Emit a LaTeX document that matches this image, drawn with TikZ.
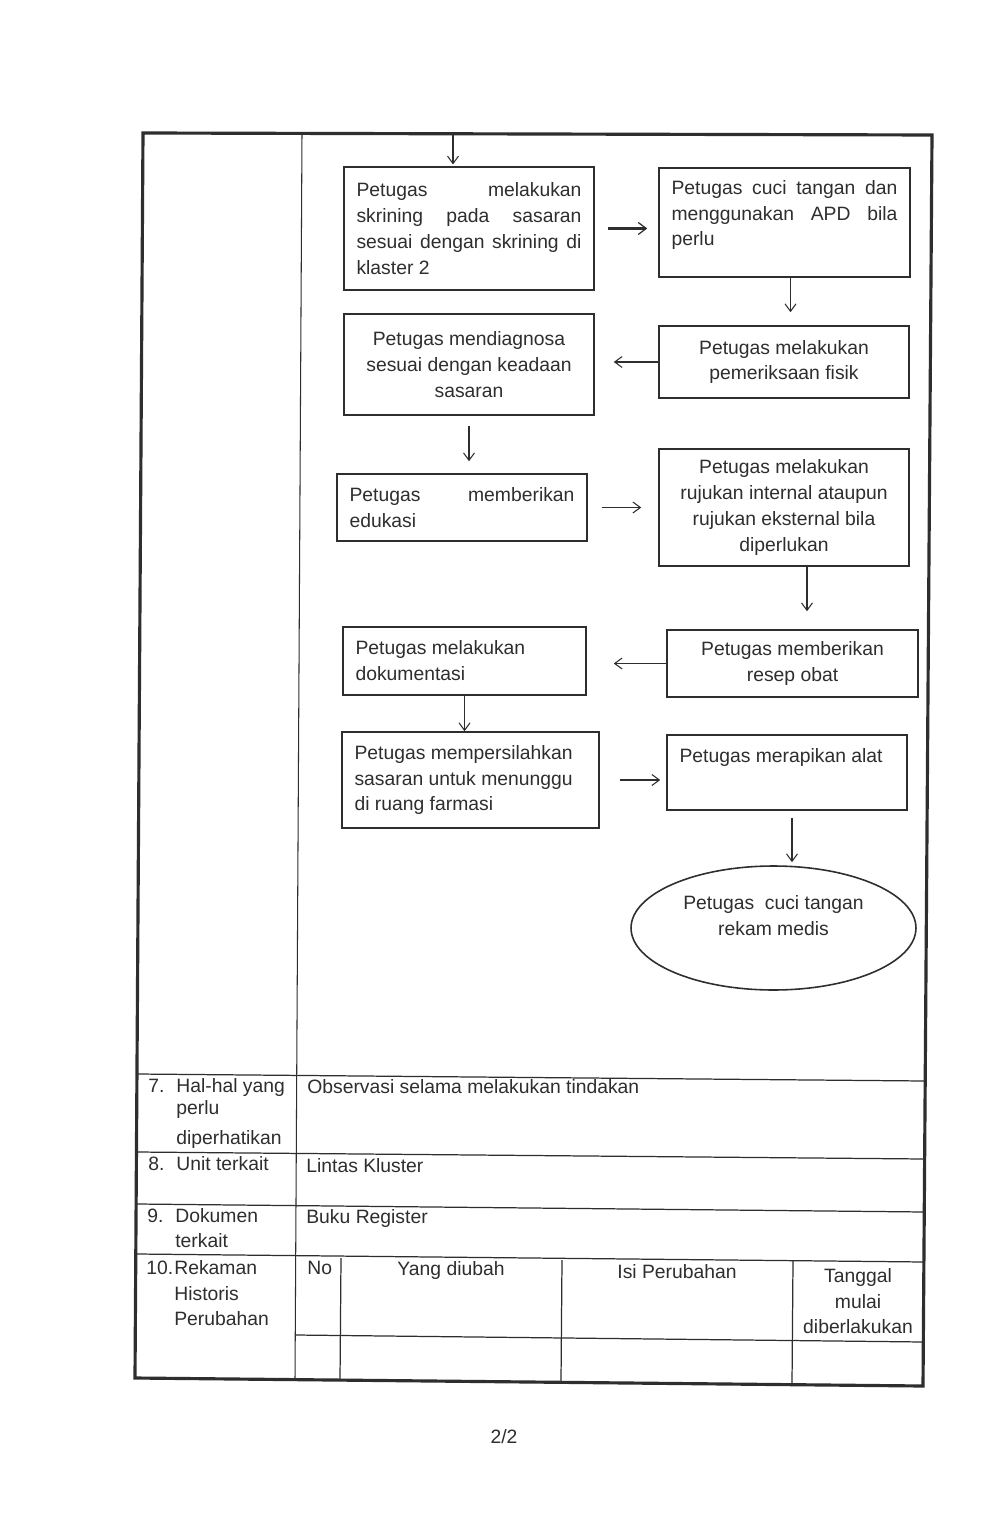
\documentclass[tikz,border=0pt]{standalone}
\usepackage{fontspec}
\setmainfont{Liberation Sans}
\usetikzlibrary{arrows.meta}
\usetikzlibrary{calc}
\usetikzlibrary{positioning}
\usetikzlibrary{shapes.geometric}
\setlength{\parindent}{0pt}
\definecolor{tinta}{gray}{0.18}
\newcommand{\hurufalur}{\fontsize{11pt}{14.7pt}\selectfont}
\newcommand{\rata}[1]{\makebox[\hsize][s]{\spaceskip=0.278em plus 1fil\relax #1}\\}
\tikzset{
	>={Straight Barb[length=1.5mm,width=2.2mm]},
	langkah/.style={
		rectangle,
		draw=tinta, line width=0.9pt,
		inner xsep=0.25cm, inner ysep=0pt,
		font=\hurufalur,
		text=tinta},
	akhir/.style={
		ellipse,
		draw=tinta, line width=0.9pt,
		inner sep=0pt,
		align=center,
		font=\hurufalur,
		text=tinta},
	panah/.style={draw=tinta, line width=0.6pt, ->},
	panahtebal/.style={draw=tinta, line width=1.3pt, -{Straight Barb[length=1.6mm,width=2.4mm,line width=0.7pt]}},
	garis/.style={draw=tinta, line width=0.7pt},
	bingkai/.style={draw=tinta, line width=1.8pt, line join=miter},
	isi/.style={anchor=base west, inner sep=0pt, font=\hurufalur, text=tinta},
	judul/.style={isi, anchor=base},
}
\begin{document}
\begin{tikzpicture}[x=0.02cm, y=-0.02cm]
	\fill[white] (0,0) rectangle (1000,1530);
	\useasboundingbox (0,0) rectangle (1000,1530);

	% garis tabel (hasil pindaian sedikit miring)
	\draw[garis, line width=0.6pt] (302,133) -- (295,1380);
	\foreach \ya/\yb in {1074/1081,1152/1159,1204/1212,1254/1262}
		\draw[garis] (137,\ya) -- (925,\yb);
	\draw[garis] (296,1335) -- (924,1342);
	\foreach \xa/\ya/\xb/\yb in {341/1258/340/1381,562/1260/561/1382,793/1261/792/1384}
		\draw[garis] (\xa,\ya) -- (\xb,\yb);
	\draw[bingkai] (143,133) -- (932,135) -- (923,1386) -- (135,1378) -- cycle;

	% alur kerja
	\node[langkah, minimum width=5cm, minimum height=2.46cm, text width=4.5cm, align=flush left] (skrining) at (469,228.5)
		{\rata{Petugas melakukan}\rata{skrining pada sasaran}\rata{sesuai dengan skrining di}klaster 2};
	\node[langkah, minimum width=5.02cm, minimum height=2.18cm, text width=4.52cm, align=flush left] (cuci) at (784.5,222.5)
		{\rata{Petugas cuci tangan dan}\rata{menggunakan APD bila}perlu\\[-4pt]\mbox{}};
	\node[langkah, minimum width=5cm, minimum height=1.44cm, text width=4.5cm, align=flush center] (fisik) at (784,362)
		{Petugas melakukan\\pemeriksaan fisik};
	\node[langkah, minimum width=5cm, minimum height=2.02cm, text width=4.5cm, align=flush center] (diagnosa) at (469,364.5)
		{Petugas mendiagnosa\\sesuai dengan keadaan\\sasaran};
	\node[langkah, minimum width=5cm, minimum height=1.34cm, text width=4.5cm, align=flush left] (edukasi) at (462,507.5)
		{\rata{Petugas memberikan}edukasi};
	\node[langkah, minimum width=5cm, minimum height=2.34cm, text width=4.5cm, align=flush center] (rujukan) at (784,507.5)
		{Petugas melakukan\\rujukan internal ataupun\\rujukan eksternal bila\\diperlukan};
	\node[langkah, minimum width=5.02cm, minimum height=1.34cm, text width=4.52cm, align=flush center] (resep) at (792.5,663.5)
		{Petugas memberikan\\resep obat};
	\node[langkah, minimum width=4.86cm, minimum height=1.36cm, text width=4.36cm, align=flush left] (dokumentasi) at (464.5,661)
		{Petugas melakukan\\dokumentasi};
	\node[langkah, minimum width=5.14cm, minimum height=1.92cm, text width=4.64cm, align=flush left] (farmasi) at (470.5,780)
		{Petugas mempersilahkan\\sasaran untuk menunggu\\di ruang farmasi};
	\node[langkah, minimum width=4.8cm, minimum height=1.5cm, text width=4.3cm, align=flush left,
		text height=0.54cm, text depth=0.96cm] (alat) at (787,772.5)
		{Petugas merapikan alat};
	\node[akhir, minimum width=5.7cm, minimum height=2.48cm] (akhir) at (773.5,928)
		{Petugas\ \ cuci tangan\\rekam medis\\ \mbox{}};

	% panah
	\coordinate (masuk) at (453,134);
	\draw[panah, shorten >=1pt] (masuk) -- (masuk |- skrining.north);
	\draw[panahtebal, shorten <=0.26cm, shorten >=0.22cm] (skrining.east) -- (skrining.east -| cuci.west);
	\draw[panah, shorten >=0.26cm] ([xshift=0.12cm]cuci.south) -- ([xshift=0.12cm]cuci.south |- fisik.north);
	\draw[panah, shorten >=0.38cm] (fisik.west) -- (fisik.west -| diagnosa.east);
	\draw[panah, shorten <=0.2cm, shorten >=0.24cm] (diagnosa.south) -- (diagnosa.south |- edukasi.north);
	\draw[panah, shorten <=0.28cm, shorten >=0.34cm] (edukasi.east) -- (edukasi.east -| rujukan.west);
	\draw[panah, shorten >=0.36cm] ([xshift=0.46cm]rujukan.south) -- ([xshift=0.46cm]rujukan.south |- resep.north);
	\draw[panah, shorten >=0.54cm] (resep.west) -- (resep.west -| dokumentasi.east);
	\draw[panah] (dokumentasi.south) -- (dokumentasi.south |- farmasi.north);
	\draw[panah, shorten <=0.4cm, shorten >=0.12cm] (farmasi.east) -- (farmasi.east -| alat.west);
	\draw[panah, shorten <=0.14cm, shorten >=0.06cm] ([xshift=0.1cm]alat.south) -- ([xshift=0.1cm]alat.south |- akhir.north);

	% isi tabel
	\node[isi] (no7) at (148,1092) {7.};
	\node[isi] (hal) at (176,1092) {Hal-hal yang};
	\node[isi] (perlu) at (176,1114) {perlu};
	\node[isi] (diperhatikan) at (176,1144) {diperhatikan};
	\node[isi] (observasi) at (307,1093) {Observasi selama melakukan tindakan};
	\node[isi] (no8) at (148,1170) {8.};
	\node[isi] (unit) at (176,1170) {Unit terkait};
	\node[isi] (lintas) at (306,1172) {Lintas Kluster};
	\node[isi] (no9) at (147,1222) {9.};
	\node[isi] (dokumen) at (175,1222) {Dokumen};
	\node[isi] (terkait) at (175,1247) {terkait};
	\node[isi] (buku) at (306,1223) {Buku Register};
	\node[isi] (no10) at (146,1274) {10.};
	\node[isi] (rekaman) at (174,1274) {Rekaman};
	\node[isi] (historis) at (174,1300) {Historis};
	\node[isi] (perubahan) at (174,1325) {Perubahan};
	\node[isi] (kolno) at (307,1274) {No};
	\node[judul] (diubah) at (451,1275) {Yang diubah};
	\node[judul] (isiubah) at (677,1278) {Isi Perubahan};
	\node[judul] (tanggal) at (858,1282) {Tanggal};
	\node[judul] (mulai) at (858,1308) {mulai};
	\node[judul] (berlaku) at (858,1333) {diberlakukan};

	% nomor halaman
	\node[judul] (halaman) at (504,1443) {2/2};
\end{tikzpicture}
\end{document}
